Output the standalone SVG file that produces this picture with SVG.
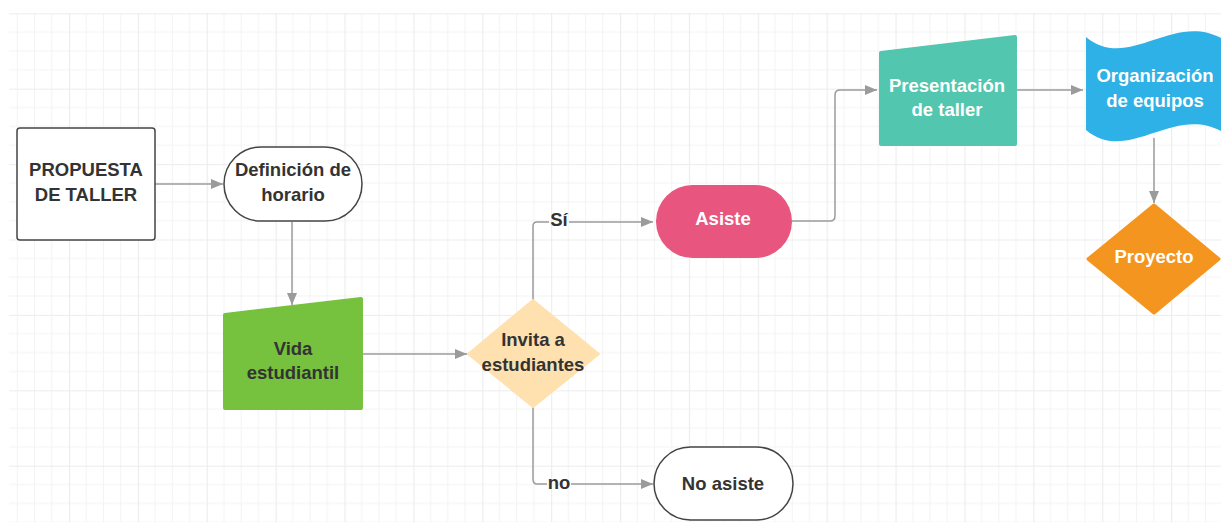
<svg xmlns="http://www.w3.org/2000/svg" width="1221" height="522" viewBox="0 0 1221 522">
<defs>
<pattern id="grid" x="0.1" y="13.3" width="68.88" height="75.4" patternUnits="userSpaceOnUse">
<path d="M17.22 0V75.4M34.44 0V75.4M51.66 0V75.4M0 18.85H68.88M0 37.7H68.88M0 56.55H68.88" stroke="#f3f3f3" stroke-width="1" fill="none"/>
<path d="M0.5 0V75.4M0 0.5H68.88" stroke="#ececec" stroke-width="1.2" fill="none"/>
</pattern>
<marker id="arr" viewBox="0 0 12 10" refX="12" refY="5" markerWidth="12" markerHeight="10" markerUnits="userSpaceOnUse" orient="auto">
<path d="M0 0L12 5L0 10Z" fill="#9b9b9b"/>
</marker>
</defs>
<style>
.t{font-family:"Liberation Sans",Arial,sans-serif;font-weight:bold;font-size:18.5px;text-anchor:middle;}
.d{fill:#333333;}
.w{fill:#ffffff;}
.c{fill:none;stroke:#9b9b9b;stroke-width:1.5;stroke-linejoin:round;}
.o{fill:#ffffff;stroke:#444444;stroke-width:1.5;}
</style>
<rect width="1221" height="522" fill="#ffffff"/>
<rect x="9" y="13" width="1212" height="509" fill="url(#grid)"/>

<g id="connectors">
<path class="c" d="M155 184H223" marker-end="url(#arr)"/>
<path class="c" d="M292 222V305" marker-end="url(#arr)"/>
<path class="c" d="M361 354H467" marker-end="url(#arr)"/>
<path class="c" d="M533 300V226Q533 222 537 222H549"/>
<path class="c" d="M569 222H653" marker-end="url(#arr)"/>
<path class="c" d="M533 407V479Q533 484 537 484H547"/>
<path class="c" d="M571 484H653" marker-end="url(#arr)"/>
<path class="c" d="M792 221H830Q835 221 835 216V95Q835 90 840 90H877" marker-end="url(#arr)"/>
<path class="c" d="M1016 90H1083" marker-end="url(#arr)"/>
<path class="c" d="M1154 138V203" marker-end="url(#arr)"/>
<text class="t d" x="559" y="226" font-size="17">Sí</text>
<text class="t d" x="559" y="489" font-size="17">no</text>
</g>

<g id="propuesta">
<rect class="o" x="17" y="128" width="138" height="112" rx="3"/>
<text class="t d" x="86" y="176">PROPUESTA</text>
<text class="t d" x="86" y="201">DE TALLER</text>
</g>

<g id="definicion">
<rect class="o" x="224" y="147" width="138" height="74" rx="37"/>
<text class="t d" x="293" y="176">Definición de</text>
<text class="t d" x="293" y="201">horario</text>
</g>

<g id="vida">
<path d="M225 315L361 299V408H225Z" fill="#76C13D" stroke="#76C13D" stroke-width="4" stroke-linejoin="round"/>
<text class="t d" x="293" y="355">Vida</text>
<text class="t d" x="293" y="379">estudiantil</text>
</g>

<g id="invita">
<path d="M533 300L599 354L533 407L468 354Z" fill="#FFE1B0" stroke="#FFE1B0" stroke-width="2" stroke-linejoin="round"/>
<text class="t d" x="533" y="346">Invita a</text>
<text class="t d" x="533" y="371">estudiantes</text>
</g>

<g id="asiste">
<rect x="656" y="185" width="136" height="73" rx="36.5" fill="#E8557F"/>
<text class="t w" x="723" y="225">Asiste</text>
</g>

<g id="noasiste">
<rect class="o" x="654" y="447" width="139" height="73" rx="36.5"/>
<text class="t d" x="723" y="490">No asiste</text>
</g>

<g id="presentacion">
<path d="M881 53L1015 37V144H881Z" fill="#52C6AE" stroke="#52C6AE" stroke-width="4" stroke-linejoin="round"/>
<text class="t w" x="947" y="92">Presentación</text>
<text class="t w" x="947" y="116">de taller</text>
</g>

<g id="organizacion">
<path d="M1086 37C1128 72 1172 12 1221 38V131C1172 105 1128 165 1086 130Z" fill="#2DB1E6"/>
<text class="t w" x="1155" y="82">Organización</text>
<text class="t w" x="1155" y="107">de equipos</text>
</g>

<g id="proyecto">
<path d="M1154 205L1219 259L1154 313L1088 259Z" fill="#F3951E" stroke="#F3951E" stroke-width="3" stroke-linejoin="round"/>
<text class="t w" x="1154" y="263">Proyecto</text>
</g>
</svg>
